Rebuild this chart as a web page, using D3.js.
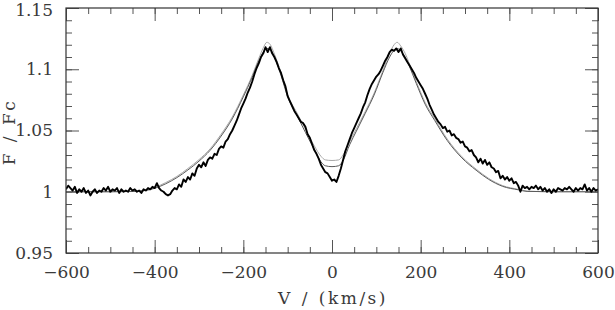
<!DOCTYPE html>
<html>
<head>
<meta charset="utf-8">
<script src="https://cdn.jsdelivr.net/npm/d3@7"></script>
<style>
  html, body { margin: 0; padding: 0; background: #fff; }
  svg { display: block; }
  .tick text { font-family: "DejaVu Serif", serif; font-size: 17px; fill: #3a3a3a; }
  .axis-title { font-family: "DejaVu Serif", serif; font-size: 17px; fill: #3a3a3a; letter-spacing: 2.5px; word-spacing: 1px; }
</style>
</head>
<body>
<svg id="chart" width="615" height="310"></svg>
<script>

// DATA

// observed profile, sampled every 5 km/s from -600 to +600
var obsStart = -600;
var obsStep = 5;
var obsFlux = [
  1.002, 1.005, 1.003, 1.001, 1.004, 0.999, 1.002, 1.000, 1.003, 0.999, // -600
  1.001, 0.997, 1.000, 1.002, 0.999, 1.001, 1.000, 1.003, 1.001, 1.004, // -550
  1.000, 1.002, 1.001, 1.003, 0.999, 1.002, 1.000, 1.001, 1.000, 1.003, // -500
  1.001, 1.002, 1.000, 1.001, 0.999, 1.002, 1.001, 1.003, 1.002, 1.004, // -450
  1.003, 1.007, 1.003, 1.001, 1.000, 0.998, 0.997, 0.998, 1.001, 1.003, // -400
  1.002, 1.006, 1.004, 1.010, 1.008, 1.012, 1.010, 1.015, 1.013, 1.019, // -350
  1.022, 1.020, 1.024, 1.021, 1.026, 1.028, 1.027, 1.031, 1.030, 1.035, // -300
  1.037, 1.036, 1.041, 1.043, 1.047, 1.050, 1.054, 1.058, 1.063, 1.068, // -250
  1.072, 1.076, 1.081, 1.085, 1.090, 1.096, 1.101, 1.105, 1.110, 1.113, // -200
  1.118, 1.114, 1.118, 1.113, 1.110, 1.106, 1.101, 1.097, 1.091, 1.086, // -150
  1.078, 1.074, 1.070, 1.066, 1.063, 1.060, 1.057, 1.056, 1.053, 1.047, // -100
  1.044, 1.039, 1.034, 1.031, 1.027, 1.022, 1.019, 1.016, 1.015, 1.012, // -50
  1.009, 1.010, 1.008, 1.013, 1.019, 1.026, 1.033, 1.038, 1.043, 1.048, // 0
  1.052, 1.056, 1.060, 1.064, 1.069, 1.073, 1.079, 1.084, 1.088, 1.091, // 50
  1.094, 1.096, 1.099, 1.103, 1.107, 1.110, 1.114, 1.116, 1.115, 1.117, // 100
  1.114, 1.117, 1.112, 1.109, 1.106, 1.103, 1.100, 1.097, 1.093, 1.090, // 150
  1.087, 1.084, 1.080, 1.076, 1.071, 1.067, 1.063, 1.060, 1.057, 1.055, // 200
  1.052, 1.053, 1.049, 1.050, 1.046, 1.047, 1.044, 1.043, 1.040, 1.041, // 250
  1.037, 1.036, 1.033, 1.034, 1.030, 1.028, 1.024, 1.027, 1.023, 1.026, // 300
  1.022, 1.024, 1.020, 1.019, 1.016, 1.017, 1.011, 1.013, 1.010, 1.012, // 350
  1.009, 1.011, 1.007, 1.008, 1.005, 1.000, 1.005, 1.003, 1.004, 1.002, // 400
  1.004, 1.003, 1.005, 1.002, 1.004, 1.001, 1.003, 1.000, 1.002, 0.999, // 450
  1.002, 1.000, 1.003, 1.002, 1.001, 1.003, 1.002, 1.004, 1.002, 1.000, // 500
  1.003, 1.001, 1.003, 1.002, 1.006, 1.001, 1.003, 1.000, 1.003, 1.001, // 550
  1.002                                                                 // 600
];

var modelVel = [
  -600, -500, -450, -425, -400, -375, -350, -325, -300, -275, -250, -225,
  -200, -180, -165, -155, -147, -140, -130, -115, -100, -80, -60, -40,
  -25, -15, 0, 15, 25, 40, 55, 75, 95, 115, 130, 140,
  147, 155, 165, 175, 190, 210, 232, 260, 293, 325, 353, 385,
  420, 440, 500, 600
];

var modelLight = [
  1.0000, 1.0000, 1.0003, 1.0012, 1.0035, 1.0075, 1.0125, 1.0190, 1.0262, 1.0350, 1.0470, 1.0610,
  1.0790, 1.0950, 1.1090, 1.1175, 1.1220, 1.1205, 1.1125, 1.0970, 1.0790, 1.0650, 1.0510, 1.0375,
  1.0290, 1.0260, 1.0255, 1.0260, 1.0300, 1.0410, 1.0515, 1.0655, 1.0805, 1.0990, 1.1130, 1.1200,
  1.1220, 1.1190, 1.1130, 1.1040, 1.0900, 1.0730, 1.0595, 1.0430, 1.0286, 1.0185, 1.0110, 1.0050,
  1.0020, 1.0005, 1.0000, 1.0000
];

var modelDark = [
  1.0000, 1.0000, 1.0002, 1.0008, 1.0028, 1.0065, 1.0115, 1.0178, 1.0250, 1.0338, 1.0455, 1.0595,
  1.0775, 1.0935, 1.1070, 1.1140, 1.1170, 1.1165, 1.1100, 1.0950, 1.0775, 1.0630, 1.0485, 1.0345,
  1.0245, 1.0212, 1.0205, 1.0212, 1.0255, 1.0385, 1.0495, 1.0640, 1.0790, 1.0975, 1.1100, 1.1155,
  1.1170, 1.1150, 1.1100, 1.1020, 1.0885, 1.0715, 1.0580, 1.0418, 1.0276, 1.0176, 1.0102, 1.0044,
  1.0016, 1.0003, 1.0000, 1.0000
];

// tick values
var xMajorTicks = [-600, -400, -200, 0, 200, 400, 600];
var xMinorTicks = d3.range(-600, 601, 50);
var yMajorTicks = [0.95, 1.0, 1.05, 1.1, 1.15];
var yMinorTicks = d3.range(95, 116, 1).map(function (d) { return d / 100; });

// SETUP

var svg = d3.select('#chart');

var margin = { top: 8, right: 17, bottom: 57, left: 66 };
var width = 615 - margin.left - margin.right;
var height = 310 - margin.top - margin.bottom;

var x = d3.scaleLinear().domain([-600, 600]).range([0, width]);
var y = d3.scaleLinear().domain([0.95, 1.15]).range([height, 0]);

var g = svg.append('g')
  .attr('transform', 'translate(' + margin.left + ',' + margin.top + ')');

var fmtX = d3.format('d');
var fmtY = function (d) { return String(+d.toFixed(2)); };

/**
 * Axes: ticks point inward on all four sides,
 * long ticks for major values, short ones in between
 */
function drawAxis(axisFn, scale, values, size, fmt, transform) {
  var axis = axisFn(scale)
    .tickValues(values)
    .tickSizeInner(-size)
    .tickSizeOuter(0)
    .tickPadding(13)
    .tickFormat(fmt || function () { return ''; });

  var sel = g.append('g')
    .attr('transform', transform || null)
    .call(axis);

  sel.select('.domain').remove();
  sel.attr('font-family', null).attr('font-size', null);
  sel.selectAll('.tick line')
    .attr('stroke', '#555')
    .attr('stroke-width', 1);
  return sel;
}

// bottom / top
drawAxis(d3.axisBottom, x, xMinorTicks, 6, null, 'translate(0,' + height + ')');
drawAxis(d3.axisBottom, x, xMajorTicks, 13, fmtX, 'translate(0,' + height + ')');
drawAxis(d3.axisTop, x, xMinorTicks, 6, null);
drawAxis(d3.axisTop, x, xMajorTicks, 13, null);

// left / right
drawAxis(d3.axisLeft, y, yMinorTicks, 6, null);
var yLabels = drawAxis(d3.axisLeft, y, yMajorTicks, 13, fmtY);
drawAxis(d3.axisRight, y, yMinorTicks, 6, null, 'translate(' + width + ',0)');
drawAxis(d3.axisRight, y, yMajorTicks, 13, null, 'translate(' + width + ',0)');

// top label sits right at the window edge, nudge it down a little
yLabels.selectAll('.tick text')
  .filter(function (d) { return d === 1.15; })
  .attr('dy', '0.42em');

// CURVES

g.append('clipPath')
  .attr('id', 'plot-clip')
  .append('rect')
  .attr('width', width)
  .attr('height', height);

var plot = g.append('g').attr('clip-path', 'url(#plot-clip)');

var modelLine = d3.line()
  .x(function (d) { return x(d[0]); })
  .y(function (d) { return y(d[1]); })
  .curve(d3.curveMonotoneX);

plot.append('path')
  .datum(d3.zip(modelVel, modelLight))
  .attr('d', modelLine)
  .attr('fill', 'none')
  .attr('stroke', '#a8a8a8')
  .attr('stroke-width', 1);

plot.append('path')
  .datum(d3.zip(modelVel, modelDark))
  .attr('d', modelLine)
  .attr('fill', 'none')
  .attr('stroke', '#5a5a5a')
  .attr('stroke-width', 1);

var obsLine = d3.line()
  .x(function (d, i) { return x(obsStart + i * obsStep); })
  .y(function (d) { return y(d); });

plot.append('path')
  .datum(obsFlux)
  .attr('d', obsLine)
  .attr('fill', 'none')
  .attr('stroke', '#000')
  .attr('stroke-width', 1.9)
  .attr('stroke-linejoin', 'round');

// frame
g.append('rect')
  .attr('width', width)
  .attr('height', height)
  .attr('fill', 'none')
  .attr('stroke', '#333')
  .attr('stroke-width', 1.2);

// TITLES

svg.append('text')
  .attr('class', 'axis-title')
  .attr('x', margin.left + x(0) + 1)
  .attr('y', 304)
  .attr('text-anchor', 'middle')
  .text('V / (km/s)');

svg.append('text')
  .attr('class', 'axis-title')
  .attr('transform', 'translate(15,132) rotate(-90)')
  .attr('text-anchor', 'middle')
  .text('F / Fc');

</script>
</body>
</html>
